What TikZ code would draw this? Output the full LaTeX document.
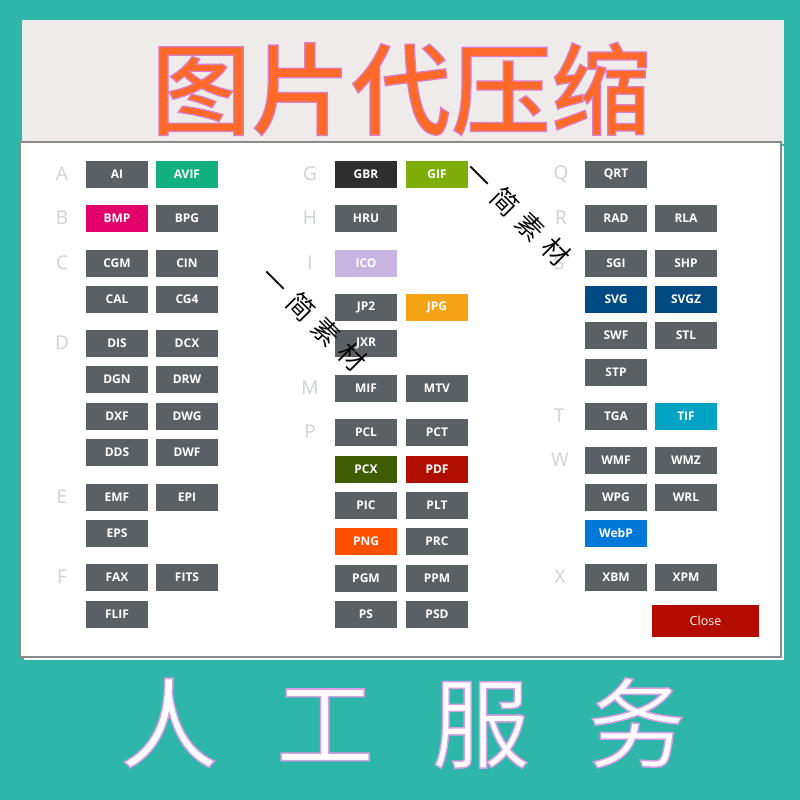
\documentclass[tikz,border=0pt]{standalone}
\usepackage{fontspec}
\usepackage{xcolor}
\usepackage{tikz}
\usetikzlibrary{positioning}
\setmainfont{Open Sans}
\newfontfamily\cjkfont{Noto Sans CJK SC}
\newfontfamily\midfont{Noto Sans CJK SC Medium}
\newfontfamily\thinfont{Noto Sans CJK SC DemiLight}
\definecolor{tealbg}{HTML}{2FB6AA}
\definecolor{paperbg}{HTML}{EEEBEA}
\definecolor{panelline}{HTML}{8A8A8A}
\definecolor{greybtn}{HTML}{5A6064}
\definecolor{letterc}{HTML}{CFD2D3}
\definecolor{titlec}{HTML}{FF6A2B}
\definecolor{closec}{HTML}{B30B00}
\definecolor{avifc}{HTML}{11B07E}
\definecolor{bmpc}{HTML}{E3006B}
\definecolor{gbrc}{HTML}{2E2E2E}
\definecolor{gifc}{HTML}{7FAD0A}
\definecolor{icoc}{HTML}{C7B4E0}
\definecolor{jpgc}{HTML}{F5A315}
\definecolor{pcxc}{HTML}{3F5C00}
\definecolor{pdfc}{HTML}{B00F00}
\definecolor{pngc}{HTML}{FF5000}
\definecolor{svgc}{HTML}{004A82}
\definecolor{tifc}{HTML}{00A3C4}
\definecolor{webpc}{HTML}{0078D7}
\newcommand{\outlined}[2]{\special{pdf:code q 2 Tr #1 w #2 RG}}
\newcommand{\outlineend}{\special{pdf:code Q}}
\tikzset{
  fmtbox/.style={fill=#1, text=white, minimum width=62pt, minimum height=27pt, inner sep=0pt, font=\fontsize{12}{12}\selectfont\bfseries},
  fmtbox/.default=greybtn,
  letterlab/.style={text=letterc, inner sep=0pt, font=\fontsize{19}{19}\selectfont},
  wmark/.style={rotate=-45, inner sep=0pt, font=\thinfont\fontsize{27}{27}\selectfont}
}
\begin{document}
\begin{tikzpicture}[x=1pt, y=-1pt]
    % background and panels
    \useasboundingbox (0,0) rectangle (800,800);
    \fill[tealbg] (0,0) rectangle (800,800);
    \fill[paperbg] (22,20) rectangle (784,144);
    \fill[white] (24,146) rectangle (784,660);
    \draw[panelline, line width=2pt, fill=white] (20,142) rectangle (781,657);
    % headings
    \node[text=titlec, inner sep=0pt, font=\midfont\fontsize{100}{100}\selectfont] (title) at (401,89) {\outlined{1.2}{0.85 0.5 0.8}图片代压缩\outlineend};
    \node[text=white, inner sep=0pt, font=\cjkfont\fontsize{98}{98}\selectfont] (service) at (403,723) {\outlined{1.5}{0.85 0.62 0.9}人\hspace{58pt}工\hspace{58pt}服\hspace{58pt}务\outlineend};
    % letters
    \node[letterlab] (la) at (62,174) {A};
    \node[letterlab] (lb) at (62,218) {B};
    \node[letterlab] (lc) at (62,263) {C};
    \node[letterlab] (ld) at (62,343) {D};
    \node[letterlab] (le) at (62,497) {E};
    \node[letterlab] (lf) at (62,577) {F};
    \node[letterlab] (lg) at (310,174) {G};
    \node[letterlab] (lh) at (310,218) {H};
    \node[letterlab] (li) at (310,263) {I};
    \node[letterlab] (lj) at (310,307) {J};
    \node[letterlab] (lm) at (310,388) {M};
    \node[letterlab] (lp) at (310,432) {P};
    \node[letterlab] (lq) at (561,174) {Q};
    \node[letterlab] (lr) at (561,218) {R};
    \node[letterlab] (ls) at (559,263) {S};
    \node[letterlab] (lt) at (559,416) {T};
    \node[letterlab] (lw) at (560,460) {W};
    \node[letterlab] (lx) at (560,577) {X};
    % left column
    \node[fmtbox] (ai) at (117,174) {AI};
    \node[fmtbox=avifc] (avif) at (187,174) {AVIF};
    \node[fmtbox=bmpc] (bmp) at (117,218) {BMP};
    \node[fmtbox] (bpg) at (187,218) {BPG};
    \node[fmtbox] (cgm) at (117,263) {CGM};
    \node[fmtbox] (cin) at (187,263) {CIN};
    \node[fmtbox] (cal) at (117,299) {CAL};
    \node[fmtbox] (cgfour) at (187,299) {CG4};
    \node[fmtbox] (dis) at (117,343) {DIS};
    \node[fmtbox] (dcx) at (187,343) {DCX};
    \node[fmtbox] (dgn) at (117,379) {DGN};
    \node[fmtbox] (drw) at (187,379) {DRW};
    \node[fmtbox] (dxf) at (117,416) {DXF};
    \node[fmtbox] (dwg) at (187,416) {DWG};
    \node[fmtbox] (dds) at (117,452) {DDS};
    \node[fmtbox] (dwf) at (187,452) {DWF};
    \node[fmtbox] (emf) at (117,497) {EMF};
    \node[fmtbox] (epi) at (187,497) {EPI};
    \node[fmtbox] (eps) at (117,533) {EPS};
    \node[fmtbox] (fax) at (117,577) {FAX};
    \node[fmtbox] (fits) at (187,577) {FITS};
    \node[fmtbox] (flif) at (117,614) {FLIF};
    % middle column
    \node[fmtbox=gbrc] (gbr) at (366,174) {GBR};
    \node[fmtbox=gifc] (gif) at (437,174) {GIF};
    \node[fmtbox] (hru) at (366,218) {HRU};
    \node[fmtbox=icoc] (ico) at (366,263) {ICO};
    \node[fmtbox] (jptwo) at (366,307) {JP2};
    \node[fmtbox=jpgc] (jpg) at (437,307) {JPG};
    \node[fmtbox] (jxr) at (366,343) {JXR};
    \node[fmtbox] (mif) at (366,388) {MIF};
    \node[fmtbox] (mtv) at (437,388) {MTV};
    \node[fmtbox] (pcl) at (366,432) {PCL};
    \node[fmtbox] (pct) at (437,432) {PCT};
    \node[fmtbox=pcxc] (pcx) at (366,469) {PCX};
    \node[fmtbox=pdfc] (pdf) at (437,469) {PDF};
    \node[fmtbox] (pic) at (366,505) {PIC};
    \node[fmtbox] (plt) at (437,505) {PLT};
    \node[fmtbox=pngc] (png) at (366,541) {PNG};
    \node[fmtbox] (prc) at (437,541) {PRC};
    \node[fmtbox] (pgm) at (366,578) {PGM};
    \node[fmtbox] (ppm) at (437,578) {PPM};
    \node[fmtbox] (ps) at (366,614) {PS};
    \node[fmtbox] (psd) at (437,614) {PSD};
    % right column
    \node[fmtbox] (qrt) at (616,174) {QRT};
    \node[fmtbox] (rad) at (616,218) {RAD};
    \node[fmtbox] (rla) at (686,218) {RLA};
    \node[fmtbox] (sgi) at (616,263) {SGI};
    \node[fmtbox] (shp) at (686,263) {SHP};
    \node[fmtbox=svgc] (svg) at (616,299) {SVG};
    \node[fmtbox=svgc] (svgz) at (686,299) {SVGZ};
    \node[fmtbox] (swf) at (616,335) {SWF};
    \node[fmtbox] (stl) at (686,335) {STL};
    \node[fmtbox] (stp) at (616,372) {STP};
    \node[fmtbox] (tga) at (616,416) {TGA};
    \node[fmtbox=tifc] (tif) at (686,416) {TIF};
    \node[fmtbox] (wmf) at (616,460) {WMF};
    \node[fmtbox] (wmz) at (686,460) {WMZ};
    \node[fmtbox] (wpg) at (616,497) {WPG};
    \node[fmtbox] (wrl) at (686,497) {WRL};
    \node[fmtbox=webpc] (webp) at (616,533) {WebP};
    \node[fmtbox] (xbm) at (616,577) {XBM};
    \node[fmtbox] (xpm) at (686,577) {XPM};
    \node[fill=closec, text=white, minimum width=107pt, minimum height=32pt, inner sep=0pt, font=\fontsize{12.5}{12.5}\selectfont] (close) at (705.5,621) {Close};
    % watermarks
    \node[wmark] (wmone) at (314,319) {一\hspace{9pt}简\hspace{9pt}素\hspace{9pt}材};
    \node[wmark] (wmtwo) at (518,214) {一\hspace{9pt}简\hspace{9pt}素\hspace{9pt}材};
\end{tikzpicture}
\end{document}
